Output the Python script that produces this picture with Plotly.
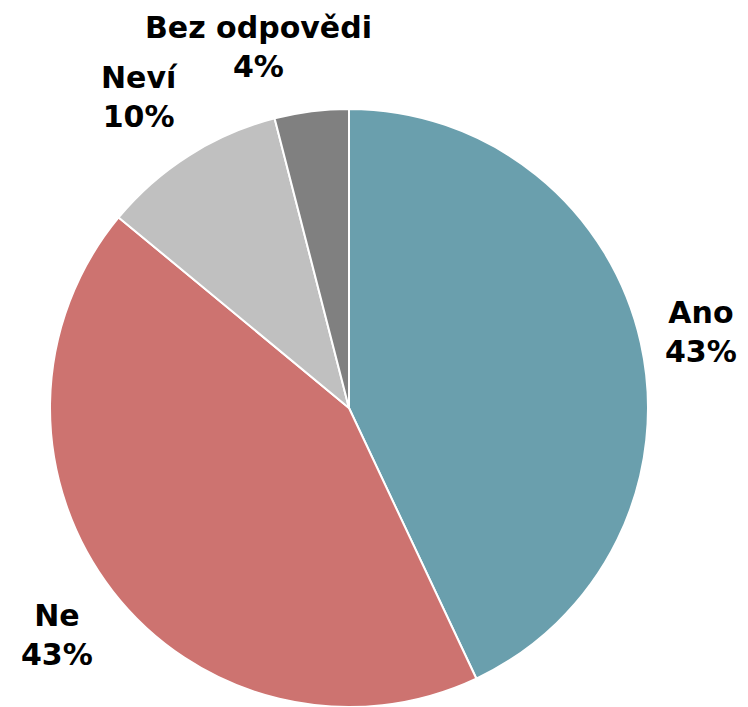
import math
import plotly.graph_objects as go

categories = ["Ano", "Ne", "Neví", "Bez odpovědi"]
values = [43, 43, 10, 4]
colors = ["#6A9FAD", "#CD7370", "#C0C0C0", "#808080"]

W, H = 748, 707
# page body has an 8px margin, so figure coords are offset by 8px
page_offset = 8
cx_px, cy_px, R_px = 349 - page_offset, 408 - page_offset, 299
label_k = 1.22
label_nudge_px = [(-4, -4), (-4, -3), (-14, 3), (-45, -1)]

fig = go.Figure(go.Pie(
    labels=categories,
    values=values,
    sort=False,
    direction="clockwise",
    rotation=0,
    marker=dict(colors=colors, line=dict(color="white", width=2)),
    textinfo="none",
    hoverinfo="label+percent",
    showlegend=False,
    domain=dict(x=[(cx_px - R_px) / W, (cx_px + R_px) / W],
                y=[(H - cy_px - R_px) / H, (H - cy_px + R_px) / H]),
))

total = sum(values)
cum = 0
annotations = []
for i, (c, v) in enumerate(zip(categories, values)):
    mid = (cum + v / 2) / total * 2 * math.pi
    cum += v
    dx = label_k * R_px * math.sin(mid) + label_nudge_px[i][0]
    dy = label_k * R_px * math.cos(mid) + label_nudge_px[i][1]
    annotations.append(dict(
        x=(cx_px + dx) / W, y=(H - cy_px + dy) / H,
        xref="paper", yref="paper",
        text=f"<b>{c}<br>{round(v / total * 100)}%</b>",
        showarrow=False, xanchor="center", yanchor="middle",
        align="center", borderpad=0,
        font=dict(family="DejaVu Sans", size=30, color="#000000"),
    ))

fig.update_layout(
    width=W, height=H,
    margin=dict(l=0, r=0, t=0, b=0),
    paper_bgcolor="white", plot_bgcolor="white",
    annotations=annotations,
)

fig.write_html("out.html")
